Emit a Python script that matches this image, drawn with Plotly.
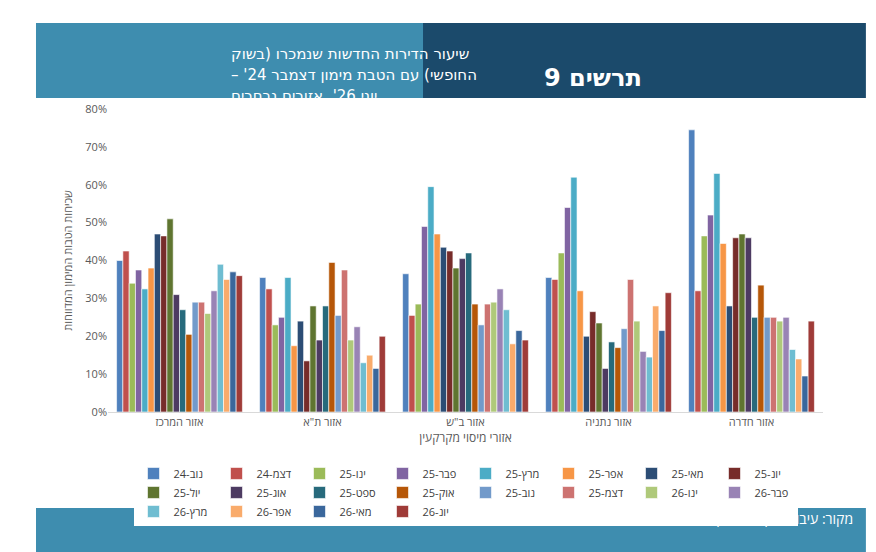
import plotly.graph_objects as go

# Data
regions = ["אזור המרכז", 'אזור ת"א', 'אזור ב"ש', "אזור נתניה", "אזור חדרה"]
months = ["24-נוב", "24-דצמ", "25-ינו", "25-פבר", "25-מרץ", "25-אפר", "25-מאי", "25-יונ", "25-יול", "25-אוג",
          "25-ספט", "25-אוק", "25-נוב", "25-דצמ", "26-ינו", "26-פבר", "26-מרץ", "26-אפר", "26-מאי", "26-יונ"]
center = [40, 42.5, 34, 37.5, 32.5, 38, 47, 46.5, 51, 31, 27, 20.5, 29, 29, 26, 32, 39, 35, 37, 36]
tel_aviv = [35.5, 32.5, 23, 25, 35.5, 17.5, 24, 13.5, 28, 19, 28, 39.5, 25.5, 37.5, 19, 22.5, 13, 15, 11.5, 20]
beer_sheva = [36.5, 25.5, 28.5, 49, 59.5, 47, 43.5, 42.5, 38, 40.5, 42, 28.5, 23, 28.5, 29, 32.5, 27, 18, 21.5, 19]
netanya = [35.5, 35, 42, 54, 62, 32, 20, 26.5, 23.5, 11.5, 18.5, 17, 22, 35, 24, 16, 14.5, 28, 21.5, 31.5]
hadera = [74.5, 32, 46.5, 52, 63, 44.5, 28, 46, 47, 46, 25, 33.5, 25, 25, 24, 25, 16.5, 14, 9.5, 24]
colors = ["#4F81BD", "#C0504D", "#9BBB59", "#8064A2", "#4BACC6", "#F79646", "#2C4D75", "#772C2A", "#5F7530", "#4D3B62",
          "#276A7C", "#B65708", "#729ACA", "#CD7371", "#AFC97A", "#9983B5", "#6FBDD1", "#F9AB6B", "#3A679C", "#9F3B38"]
title_lines = ["שיעור הדירות החדשות שנמכרו (בשוק",
               "החופשי) עם הטבת מימון דצמבר 24' –",
               "יוני 26', אזורים נבחרים"]

by_region = [center, tel_aviv, beer_sheva, netanya, hadera]

fig = go.Figure()
for i, m in enumerate(months):
    fig.add_trace(go.Bar(
        x=regions, y=[r[i] / 100 for r in by_region], name=m,
        marker=dict(color=colors[i], line=dict(color="white", width=0.6)),
    ))

# header title lines, forced right-to-left
anns = []
for k, line in enumerate(title_lines):
    anns.append(dict(xref="paper", yref="paper", x=0.169, y=[1.218, 1.149, 1.079][k],
                     showarrow=False, text="\u202b" + line + "\u202c",
                     font=dict(size=15, color="white", family="DejaVu Sans")))
anns.append(dict(xref="paper", yref="paper", x=0.75, y=1.155, showarrow=False,
                 text="<b>תרשים 9</b>", font=dict(size=24, color="white", family="DejaVu Sans")))
anns.append(dict(xref="paper", yref="paper", x=1.045, xanchor="right", y=-0.39, showarrow=False,
                 text="\u202bמקור: עיבודי אגף הכלכלן הראשי לנתוני שע\"מ\u202c",
                 font=dict(size=14, color="white")))

fig.update_layout(
    width=876, height=552,
    margin=dict(l=100, r=61, t=101, b=148),
    paper_bgcolor="white", plot_bgcolor="white",
    font=dict(family="Open Sans, DejaVu Sans", color="#595959", size=11),
    barmode="group", bargap=0.12, bargroupgap=0,
    showlegend=True,
    legend=dict(orientation="h", x=0.5, xanchor="center", y=-0.155, yanchor="top",
                entrywidth=38, itemwidth=30, tracegroupgap=0,
                font=dict(size=11, color="#404040"), traceorder="normal"),
    xaxis=dict(showline=True, linecolor="#d9d9d9", ticks="",
               title=dict(text="אזורי מיסוי מקרקעין", font=dict(size=12), standoff=4)),
    yaxis=dict(range=[0, 0.8], dtick=0.1, tickformat=".0%", showgrid=False,
               title=dict(text="שכיחות הטבות המימון המדווחות", font=dict(size=11), standoff=10)),
    shapes=[
        dict(type="rect", xref="paper", yref="paper", x0=-0.1007, x1=1.06, y0=1.036, y1=1.284,
             fillcolor="#1B4A6B", line_width=0, layer="below"),
        dict(type="rect", xref="paper", yref="paper", x0=-0.1007, x1=0.4406, y0=1.036, y1=1.284,
             fillcolor="#3E8DAF", line_width=0, layer="below"),
        dict(type="rect", xref="paper", yref="paper", x0=-0.1007, x1=1.06, y0=-0.465, y1=-0.317,
             fillcolor="#3E8DAF", line_width=0, layer="below"),
    ],
    annotations=anns,
)

fig.write_html("out.html")
